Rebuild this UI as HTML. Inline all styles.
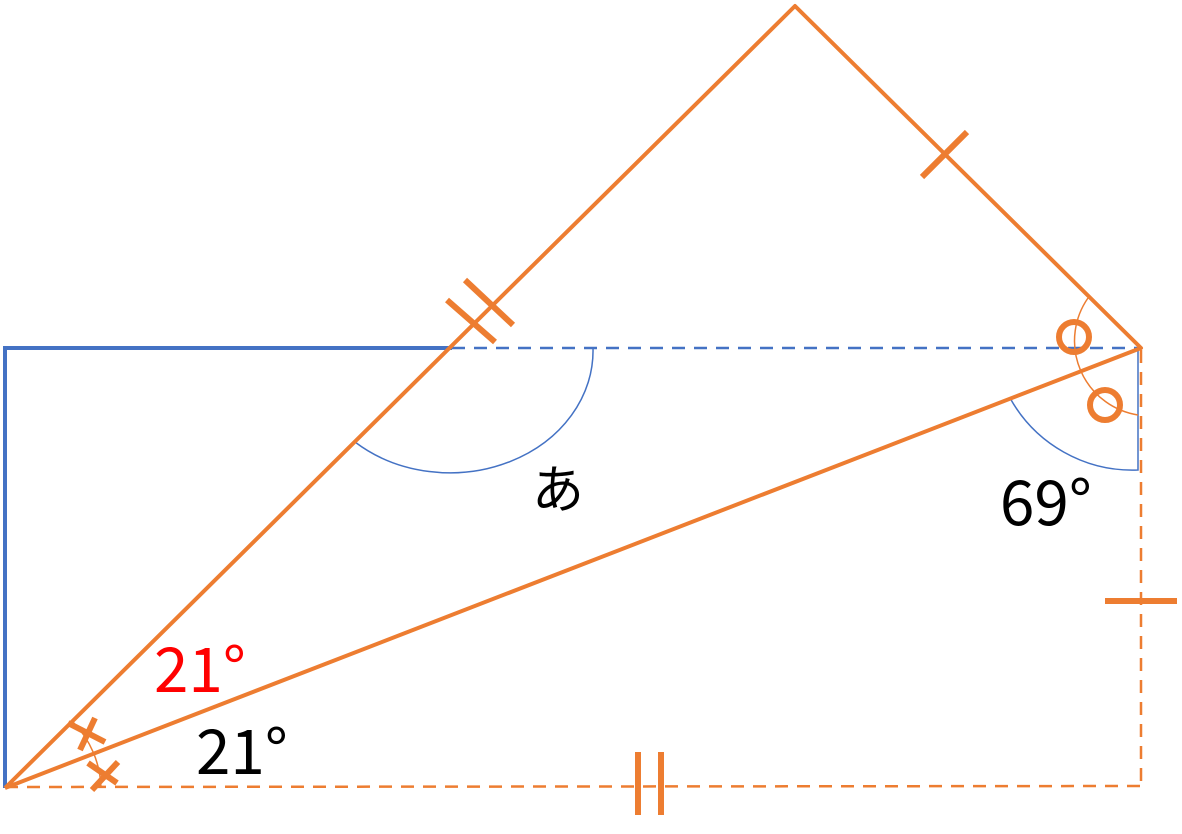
<!DOCTYPE html>
<html><head><meta charset="utf-8"><style>body{margin:0;background:#fff}svg{display:block}text{font-family:"Noto Sans CJK JP","Liberation Sans",sans-serif}</style></head>
<body>
<svg width="1182" height="834" viewBox="0 0 1182 834" xmlns="http://www.w3.org/2000/svg">
<g fill="none">
<polyline points="5,788 5,348 452,348" stroke="#4472C4" stroke-width="4"/>
<line x1="452" y1="348" x2="1141" y2="348" stroke="#4472C4" stroke-width="2.5" stroke-dasharray="13,9"/>
<line x1="1141" y1="350" x2="1141" y2="786" stroke="#ED7D31" stroke-width="2.5" stroke-dasharray="13,9"/>
<line x1="5" y1="787" x2="1141" y2="786" stroke="#ED7D31" stroke-width="2.5" stroke-dasharray="13,9"/>
<path d="M355,442 A143,122 0 0 0 593,348" stroke="#4472C4" stroke-width="1.5"/>
<path d="M1010,398 A140,140 0 0 0 1138,470 L1138,350" stroke="#4472C4" stroke-width="1.5"/>
<path d="M1088,298 A75,75 0 0 0 1138,415" stroke="#ED7D31" stroke-width="1.5"/>
<path d="M73,722 A98,98 0 0 1 101,788" stroke="#ED7D31" stroke-width="1.5"/>
<polyline points="5,788 795,6 1141,348 5,788" stroke="#ED7D31" stroke-width="4" stroke-linejoin="round"/>
<g stroke="#ED7D31" stroke-width="6">
<line x1="447" y1="300" x2="495" y2="342"/>
<line x1="465" y1="280" x2="513" y2="325"/>
<line x1="922" y1="177" x2="967" y2="132"/>
<line x1="1105" y1="601" x2="1177" y2="601"/>
<line x1="638" y1="752" x2="638" y2="815"/>
<line x1="661" y1="752" x2="661" y2="815"/>
<line x1="68" y1="723" x2="105" y2="742"/>
<line x1="80" y1="750" x2="95" y2="718"/>
<line x1="88" y1="763" x2="117" y2="783"/>
<line x1="92" y1="790" x2="118" y2="762"/>
</g>
<circle cx="1074" cy="337" r="15" stroke="#ED7D31" stroke-width="6"/>
<circle cx="1105" cy="405" r="15" stroke="#ED7D31" stroke-width="6"/>
</g>
<text x="532" y="508" font-size="52" fill="#000">あ</text>
<text x="1000" y="525" font-size="62" fill="#000">69°</text>
<text x="154" y="692" font-size="62" fill="#FF0000">21°</text>
<text x="196" y="774" font-size="62" fill="#000">21°</text>
</svg>
</body></html>
